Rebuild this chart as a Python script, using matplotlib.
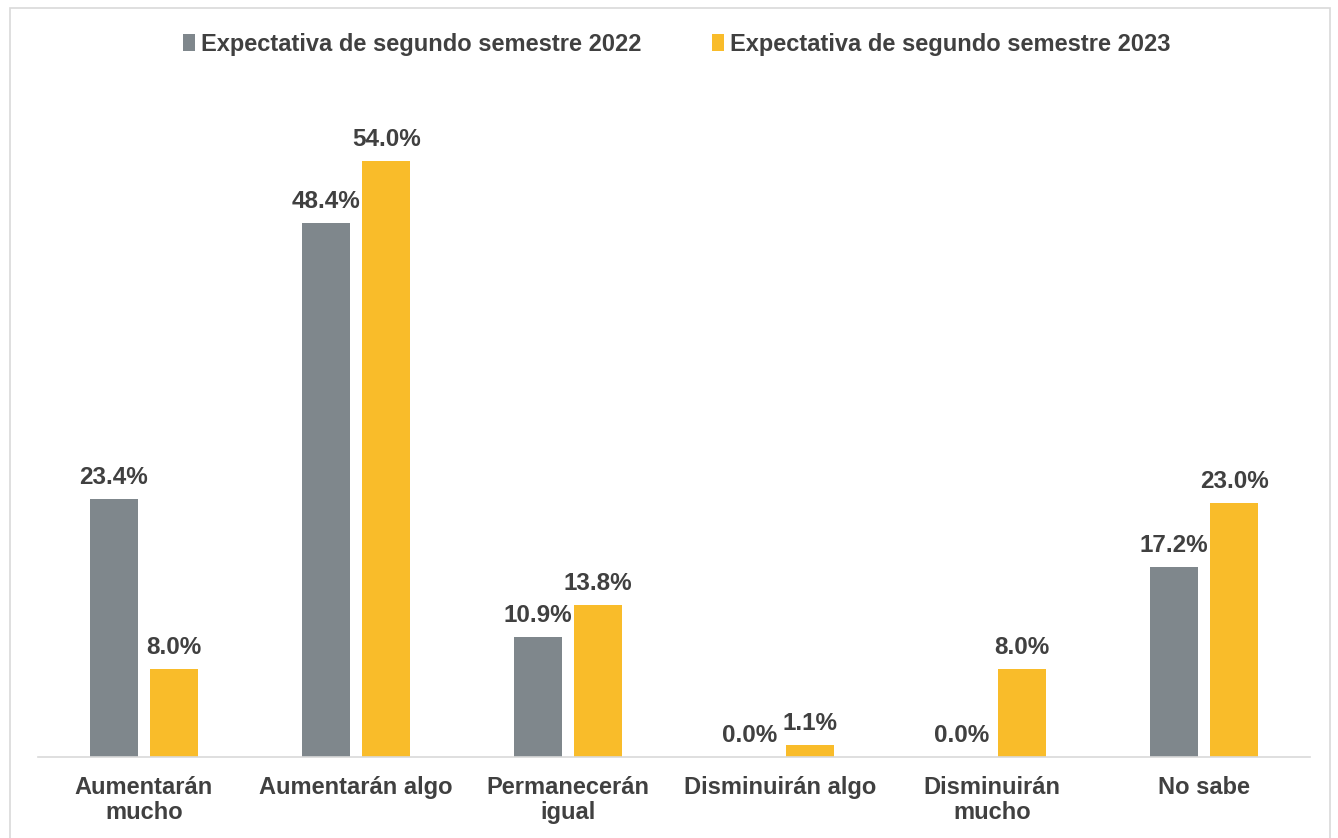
import matplotlib.pyplot as plt
from matplotlib.patches import Rectangle
import numpy as np

categorias = ["Aumentarán\nmucho", "Aumentarán algo", "Permanecerán\nigual",
              "Disminuirán algo", "Disminuirán\nmucho", "No sabe"]
serie_2022 = [23.4, 48.4, 10.9, 0.0, 0.0, 17.2]
serie_2023 = [8.0, 54.0, 13.8, 1.1, 8.0, 23.0]
nombres = ["Expectativa de segundo semestre 2022", "Expectativa de segundo semestre 2023"]

gris = "#7F878C"
amarillo = "#F9BC2A"
texto = "#404040"

plt.rcParams['font.family'] = ['Liberation Sans', 'DejaVu Sans']

fig = plt.figure(figsize=(13.38, 8.38), dpi=100)
ax = fig.add_axes([0.0284, 0.0967, 0.9506, 0.7905])

# marco exterior
fig.patches.append(Rectangle((10 / 1338, -0.01), 1320 / 1338, 1 - 8 / 838 + 0.01,
                             transform=fig.transFigure, fill=False,
                             edgecolor="#D9D9D9", linewidth=1.2))

x = np.arange(len(categorias))
ancho = 0.226
off = 0.143
b1 = ax.bar(x - off, serie_2022, ancho, color=gris, label=nombres[0])
b2 = ax.bar(x + off, serie_2023, ancho, color=amarillo, label=nombres[1])

for barras, vals in ((b1, serie_2022), (b2, serie_2023)):
    for b, v in zip(barras, vals):
        ax.annotate(f"{v:.1f}%", (b.get_x() + b.get_width() / 2, v),
                    xytext=(0, 7), textcoords="offset points",
                    ha="center", va="bottom", fontsize=17.5, fontweight="bold",
                    color=texto)

ax.set_xlim(-0.5, len(categorias) - 0.5)
ax.set_ylim(0, 60)
ax.set_xticks(x)
ax.set_xticklabels(categorias, fontsize=17, fontweight="bold", color=texto,
                   linespacing=1.1)
ax.tick_params(axis="x", length=0, pad=14)
ax.set_yticks([])
for s in ("top", "right", "left"):
    ax.spines[s].set_visible(False)
ax.spines["bottom"].set_color("#D9D9D9")
ax.spines["bottom"].set_linewidth(1.2)

leg = fig.legend(loc="center", bbox_to_anchor=(0.506, 0.947), ncol=2, frameon=False,
                 fontsize=17, handlelength=0.5, handleheight=0.7, handletextpad=0.25,
                 columnspacing=3.0)
for t in leg.get_texts():
    t.set_fontweight("bold")
    t.set_color(texto)

fig.savefig("out.png", dpi=100)
